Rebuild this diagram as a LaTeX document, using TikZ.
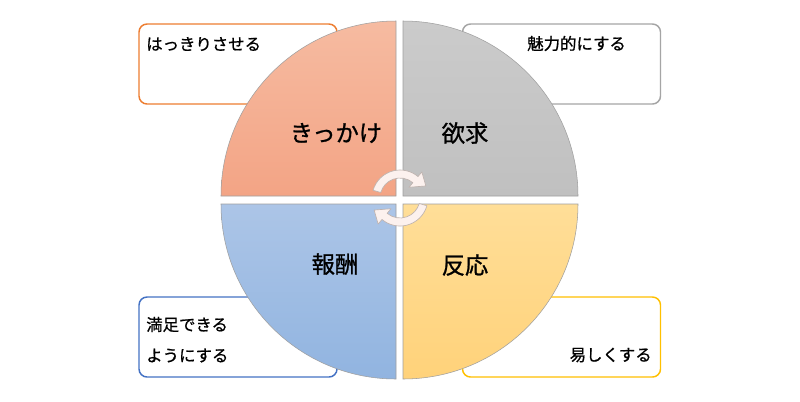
\documentclass[tikz,border=0pt]{standalone}
\usepackage{fontspec}
\setmainfont{Noto Sans CJK JP}
\newfontfamily\jpbold{Noto Sans CJK JP}[FakeBold=0.9]
\usetikzlibrary{calc}
\definecolor{bOrange}{HTML}{ED7D31}
\definecolor{bGray}{HTML}{A5A5A5}
\definecolor{bBlue}{HTML}{4472C4}
\definecolor{bGold}{HTML}{FFC000}
\definecolor{qOrT}{HTML}{F6BBA1}
\definecolor{qOrB}{HTML}{F3A485}
\definecolor{qGrT}{HTML}{CBCBCB}
\definecolor{qGrB}{HTML}{C0C0C0}
\definecolor{qBlT}{HTML}{ACC5E7}
\definecolor{qBlB}{HTML}{91B4E0}
\definecolor{qYeT}{HTML}{FFDE98}
\definecolor{qYeB}{HTML}{FFD27A}
\definecolor{arrFill}{HTML}{FCF1EE}
\definecolor{arrLine}{HTML}{BFB3AF}
\begin{document}
\begin{tikzpicture}[x=0.75pt,y=-0.75pt,
  box/.style={draw=#1, line width=1.1pt, rounded corners=6pt, fill=white,
    minimum width=148.5pt, minimum height=60pt, inner sep=0pt},
  quad/.style={draw=gray!75, line width=0.4pt},
  boxtext/.style={font=\jpbold\fontsize{12.3}{14}\selectfont, inner sep=0pt},
  bigtext/.style={font=\jpbold\fontsize{17.5}{20}\selectfont, inner sep=0pt},
  cyc/.style={fill=arrFill, draw=arrLine, line width=0.5pt, line join=round}]
\useasboundingbox (0,0) rectangle (800,401);
\fill[white] (0,0) rectangle (800,401);
% boxes (behind the circle)
\node[box=bOrange] (tlbox) at (238,64) {};
\node[box=bGray]   (trbox) at (561.5,64) {};
\node[box=bBlue]   (blbox) at (238,337) {};
\node[box=bGold]   (brbox) at (561.5,337) {};
% quadrants
\path[quad, top color=qOrT, bottom color=qOrB]
  (396,196) -- ++(-175,0) arc[start angle=180,end angle=270,radius=175] -- cycle;
\path[quad, top color=qGrT, bottom color=qGrB]
  (403,196) -- ++(0,-175) arc[start angle=270,end angle=360,radius=175] -- cycle;
\path[quad, top color=qYeT, bottom color=qYeB]
  (403,204) -- ++(175,0) arc[start angle=0,end angle=90,radius=175] -- cycle;
\path[quad, top color=qBlT, bottom color=qBlB]
  (396,204) -- ++(0,175) arc[start angle=90,end angle=180,radius=175] -- cycle;
% cycle arrows
\coordinate (cu) at (400,198);
\coordinate (cc) at (400,200);
\draw[cyc] ($(cu)+(196:28)$) arc[start angle=196,end angle=310,radius=28]
  -- ($(cu)+(310:34)$) -- ($(cu)+(335:28.5)$) -- ($(cu)+(310:14)$) -- ($(cu)+(310:20)$)
  arc[start angle=310,end angle=196,radius=20] -- cycle;
\begin{scope}[rotate around={180:(cc)}]
\draw[cyc] ($(cu)+(196:28)$) arc[start angle=196,end angle=310,radius=28]
  -- ($(cu)+(310:34)$) -- ($(cu)+(335:28.5)$) -- ($(cu)+(310:14)$) -- ($(cu)+(310:20)$)
  arc[start angle=310,end angle=196,radius=20] -- cycle;
\end{scope}
% box texts
\node[boxtext, anchor=west] (t1) at (146,44) {はっきりさせる};
\node[boxtext, anchor=west] (t2) at (527,43.5) {魅力的にする};
\node[boxtext, anchor=west] (t3) at (146,324.5) {満足できる};
\node[boxtext, anchor=west] (t4) at (146,355.5) {ようにする};
\node[boxtext, anchor=east] (t5) at (652,355) {易しくする};
% quadrant labels
\node[bigtext] (l1) at (336,133) {きっかけ};
\node[bigtext] (l2) at (465,133) {欲求};
\node[bigtext] (l3) at (335,264) {報酬};
\node[bigtext] (l4) at (465,265) {反応};
\end{tikzpicture}
\end{document}
